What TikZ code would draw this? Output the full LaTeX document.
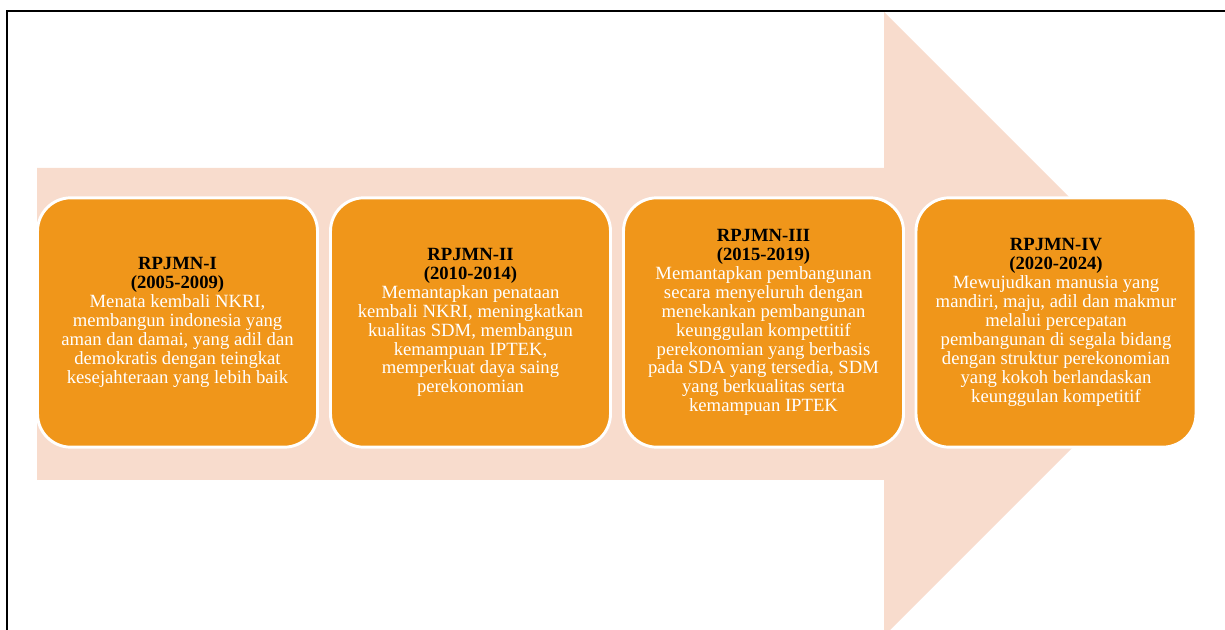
\documentclass[tikz,border=0pt]{standalone}
\usepackage{fontspec}
\setmainfont{Liberation Serif}
\definecolor{peach}{HTML}{F8DCCD}
\definecolor{amber}{HTML}{F0961A}
\newcommand{\rpj}[1]{{\bfseries\color{black}#1}}
\begin{document}
\begin{tikzpicture}[x=0.75pt,y=-0.75pt]
  \useasboundingbox (0,0) rectangle (1225,630);
  \clip (0,0) rectangle (1225,630);

  % big arrow behind the boxes
  \fill[peach] (37,168) -- (884,168) -- (884,12) -- (1196,324) -- (884,636)
    -- (884,480) -- (37,480) -- cycle;

  % frame
  \draw[line width=1.5pt] (7,640) -- (7,11) -- (1230,11);

  \begin{scope}[every node/.style={rounded corners=25pt, fill=amber, draw=white,
      line width=2.2pt, minimum width=210pt, minimum height=187pt, align=center,
      text=white, font=\fontsize{14}{14.2}\selectfont}]
    \node (r1) at (177.5,322.5) {\rpj{RPJMN-I}\\\rpj{(2005-2009)}\\
      Menata kembali NKRI,\\membangun indonesia yang\\aman dan damai, yang adil dan\\
      demokratis dengan teingkat\\kesejahteraan yang lebih baik};
    \node (r2) at (470.5,322.5) {\rpj{RPJMN-II}\\\rpj{(2010-2014)}\\
      Memantapkan penataan\\kembali NKRI, meningkatkan\\kualitas SDM, membangun\\
      kemampuan IPTEK,\\memperkuat daya saing\\perekonomian};
    \node (r3) at (763.5,322.5) {\rpj{RPJMN-III}\\\rpj{(2015-2019)}\\
      Memantapkan pembangunan\\secara menyeluruh dengan\\menekankan pembangunan\\
      keunggulan kompettitif\\perekonomian yang berbasis\\pada SDA yang tersedia, SDM\\
      yang berkualitas serta\\kemampuan IPTEK};
    \node (r4) at (1056,322.5) {\rpj{RPJMN-IV}\\\rpj{(2020-2024)}\\
      Mewujudkan manusia yang\\mandiri, maju, adil dan makmur\\melalui percepatan\\
      pembangunan di segala bidang\\dengan struktur perekonomian\\yang kokoh berlandaskan\\
      keunggulan kompetitif};
  \end{scope}
\end{tikzpicture}
\end{document}
